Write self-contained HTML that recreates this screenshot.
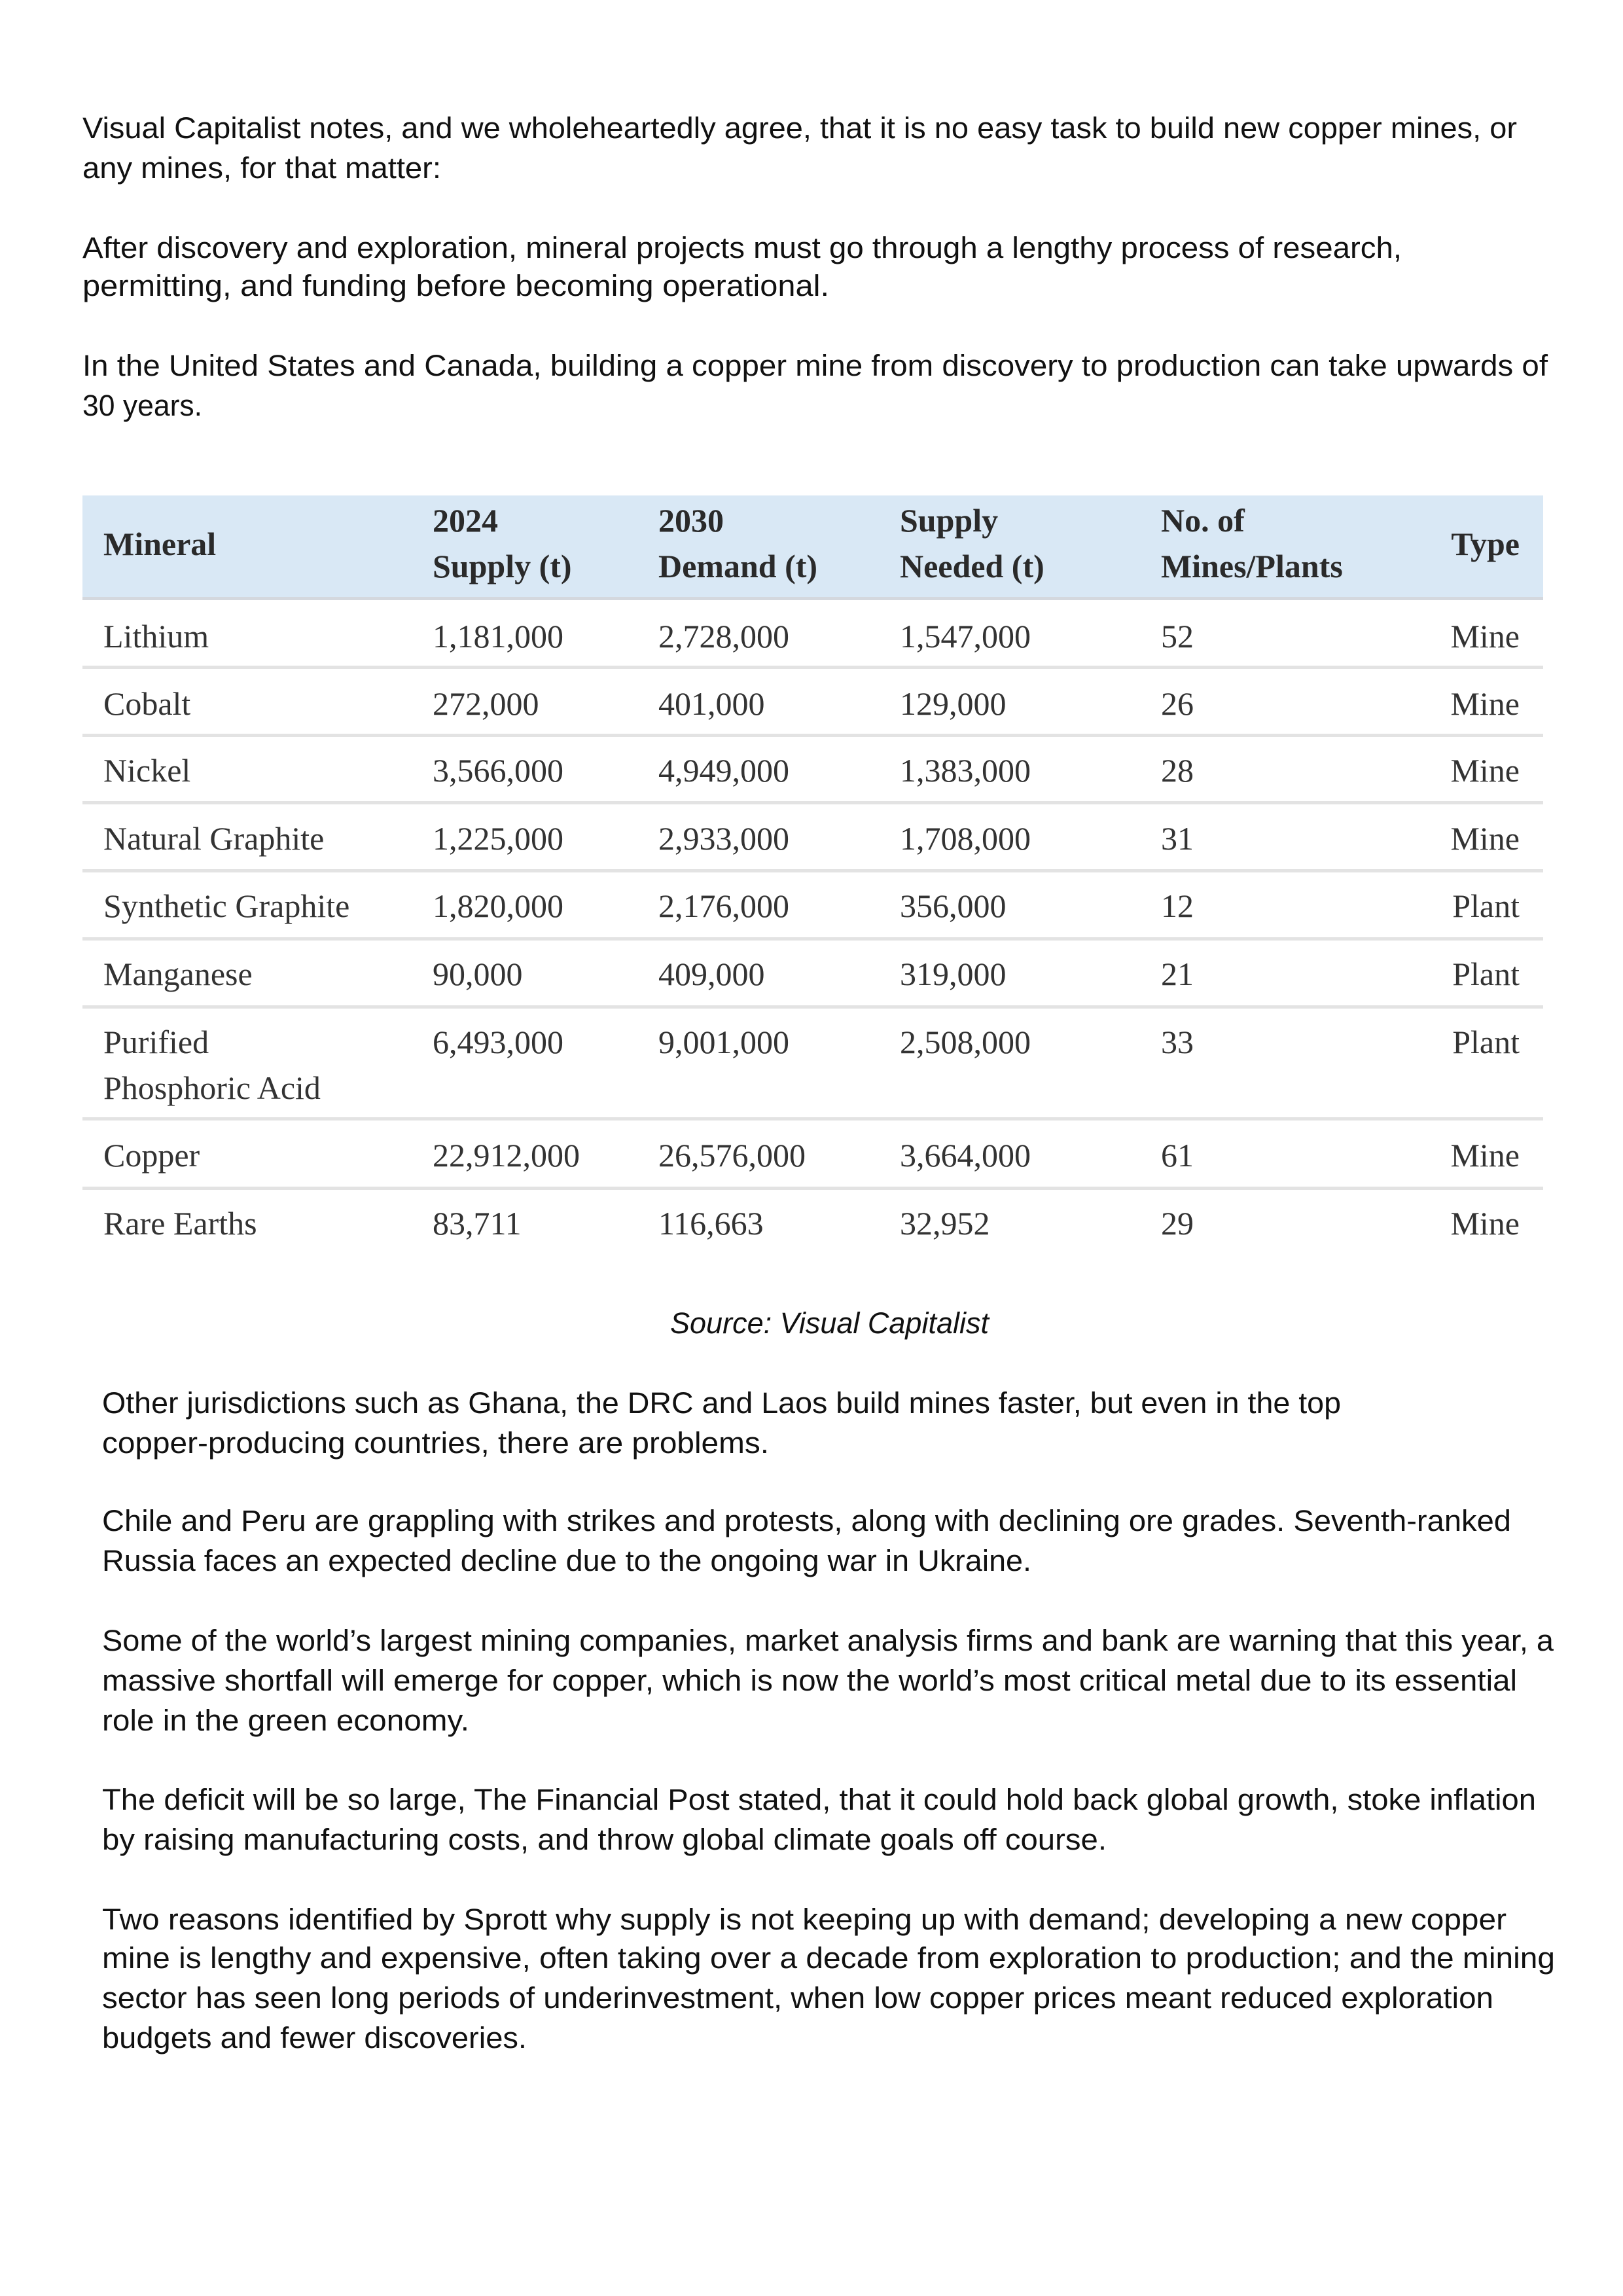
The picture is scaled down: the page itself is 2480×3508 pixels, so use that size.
<!DOCTYPE html>
<html><head><meta charset="utf-8"><style>html,body{margin:0;padding:0;background:#fff}svg{display:block}</style></head>
<body>
<svg width="2480" height="3508" viewBox="0 0 2480 3508" xmlns="http://www.w3.org/2000/svg">
<rect width="2480" height="3508" fill="#fff"/>
<g font-family="'Liberation Sans', sans-serif" font-size="45" fill="#111" lengthAdjust="spacingAndGlyphs">
<text x="126" y="211" textLength="2192" lengthAdjust="spacingAndGlyphs">Visual Capitalist notes, and we wholeheartedly agree, that it is no easy task to build new copper mines, or</text>
<text x="126" y="272" textLength="548" lengthAdjust="spacingAndGlyphs">any mines, for that matter:</text>
<text x="126" y="394" textLength="2016" lengthAdjust="spacingAndGlyphs">After discovery and exploration, mineral projects must go through a lengthy process of research,</text>
<text x="126" y="452" textLength="1141" lengthAdjust="spacingAndGlyphs">permitting, and funding before becoming operational.</text>
<text x="126" y="574" textLength="2239" lengthAdjust="spacingAndGlyphs">In the United States and Canada, building a copper mine from discovery to production can take upwards of</text>
<text x="126" y="635" textLength="183" lengthAdjust="spacingAndGlyphs">30 years.</text>
<text x="1024" y="2037" textLength="487" lengthAdjust="spacingAndGlyphs" font-style="italic">Source: Visual Capitalist</text>
<text x="156" y="2159" textLength="1893" lengthAdjust="spacingAndGlyphs">Other jurisdictions such as Ghana, the DRC and Laos build mines faster, but even in the top</text>
<text x="156" y="2220" textLength="1019" lengthAdjust="spacingAndGlyphs">copper-producing countries, there are problems.</text>
<text x="156" y="2339" textLength="2153" lengthAdjust="spacingAndGlyphs">Chile and Peru are grappling with strikes and protests, along with declining ore grades. Seventh-ranked</text>
<text x="156" y="2400" textLength="1420" lengthAdjust="spacingAndGlyphs">Russia faces an expected decline due to the ongoing war in Ukraine.</text>
<text x="156" y="2522" textLength="2218" lengthAdjust="spacingAndGlyphs">Some of the world’s largest mining companies, market analysis firms and bank are warning that this year, a</text>
<text x="156" y="2583" textLength="2162" lengthAdjust="spacingAndGlyphs">massive shortfall will emerge for copper, which is now the world’s most critical metal due to its essential</text>
<text x="156" y="2644" textLength="561" lengthAdjust="spacingAndGlyphs">role in the green economy.</text>
<text x="156" y="2765" textLength="2191" lengthAdjust="spacingAndGlyphs">The deficit will be so large, The Financial Post stated, that it could hold back global growth, stoke inflation</text>
<text x="156" y="2826" textLength="1535" lengthAdjust="spacingAndGlyphs">by raising manufacturing costs, and throw global climate goals off course.</text>
<text x="156" y="2948" textLength="2146" lengthAdjust="spacingAndGlyphs">Two reasons identified by Sprott why supply is not keeping up with demand; developing a new copper</text>
<text x="156" y="3007" textLength="2220" lengthAdjust="spacingAndGlyphs">mine is lengthy and expensive, often taking over a decade from exploration to production; and the mining</text>
<text x="156" y="3068" textLength="2126" lengthAdjust="spacingAndGlyphs">sector has seen long periods of underinvestment, when low copper prices meant reduced exploration</text>
<text x="156" y="3129" textLength="649" lengthAdjust="spacingAndGlyphs">budgets and fewer discoveries.</text>
</g>
<!-- table -->
<rect x="126" y="757" width="2232" height="158" fill="#d9e8f5"/>
<rect x="126" y="912" width="2232" height="5" fill="#d4d8de"/>
<g fill="#e3e3e3">
<rect x="126" y="1017" width="2232" height="5"/>
<rect x="126" y="1121" width="2232" height="5"/>
<rect x="126" y="1224" width="2232" height="5"/>
<rect x="126" y="1328" width="2232" height="5"/>
<rect x="126" y="1432" width="2232" height="5"/>
<rect x="126" y="1536" width="2232" height="5"/>
<rect x="126" y="1707" width="2232" height="5"/>
<rect x="126" y="1813" width="2232" height="5"/>
</g>
<g font-family="'Liberation Serif', serif" font-size="50" fill="#2a2a2a" font-weight="bold">
<text x="158" y="848">Mineral</text>
<text x="661" y="812">2024</text><text x="661" y="882">Supply (t)</text>
<text x="1006" y="812">2030</text><text x="1006" y="882">Demand (t)</text>
<text x="1375" y="812">Supply</text><text x="1375" y="882">Needed (t)</text>
<text x="1774" y="812">No. of</text><text x="1774" y="882">Mines/Plants</text>
<text x="2322" y="848" text-anchor="end">Type</text>
</g>
<g font-family="'Liberation Serif', serif" font-size="50" fill="#333">
<g transform="translate(0,989)"><text x="158">Lithium</text><text x="661">1,181,000</text><text x="1006">2,728,000</text><text x="1375">1,547,000</text><text x="1774">52</text><text x="2322" text-anchor="end">Mine</text></g>
<g transform="translate(0,1092)"><text x="158">Cobalt</text><text x="661">272,000</text><text x="1006">401,000</text><text x="1375">129,000</text><text x="1774">26</text><text x="2322" text-anchor="end">Mine</text></g>
<g transform="translate(0,1194)"><text x="158">Nickel</text><text x="661">3,566,000</text><text x="1006">4,949,000</text><text x="1375">1,383,000</text><text x="1774">28</text><text x="2322" text-anchor="end">Mine</text></g>
<g transform="translate(0,1298)"><text x="158">Natural Graphite</text><text x="661">1,225,000</text><text x="1006">2,933,000</text><text x="1375">1,708,000</text><text x="1774">31</text><text x="2322" text-anchor="end">Mine</text></g>
<g transform="translate(0,1401)"><text x="158">Synthetic Graphite</text><text x="661">1,820,000</text><text x="1006">2,176,000</text><text x="1375">356,000</text><text x="1774">12</text><text x="2322" text-anchor="end">Plant</text></g>
<g transform="translate(0,1505)"><text x="158">Manganese</text><text x="661">90,000</text><text x="1006">409,000</text><text x="1375">319,000</text><text x="1774">21</text><text x="2322" text-anchor="end">Plant</text></g>
<g transform="translate(0,1609)"><text x="158">Purified</text><text x="158" y="70">Phosphoric Acid</text><text x="661">6,493,000</text><text x="1006">9,001,000</text><text x="1375">2,508,000</text><text x="1774">33</text><text x="2322" text-anchor="end">Plant</text></g>
<g transform="translate(0,1782)"><text x="158">Copper</text><text x="661">22,912,000</text><text x="1006">26,576,000</text><text x="1375">3,664,000</text><text x="1774">61</text><text x="2322" text-anchor="end">Mine</text></g>
<g transform="translate(0,1886)"><text x="158">Rare Earths</text><text x="661">83,711</text><text x="1006">116,663</text><text x="1375">32,952</text><text x="1774">29</text><text x="2322" text-anchor="end">Mine</text></g>
</g>
</svg>
</body></html>
